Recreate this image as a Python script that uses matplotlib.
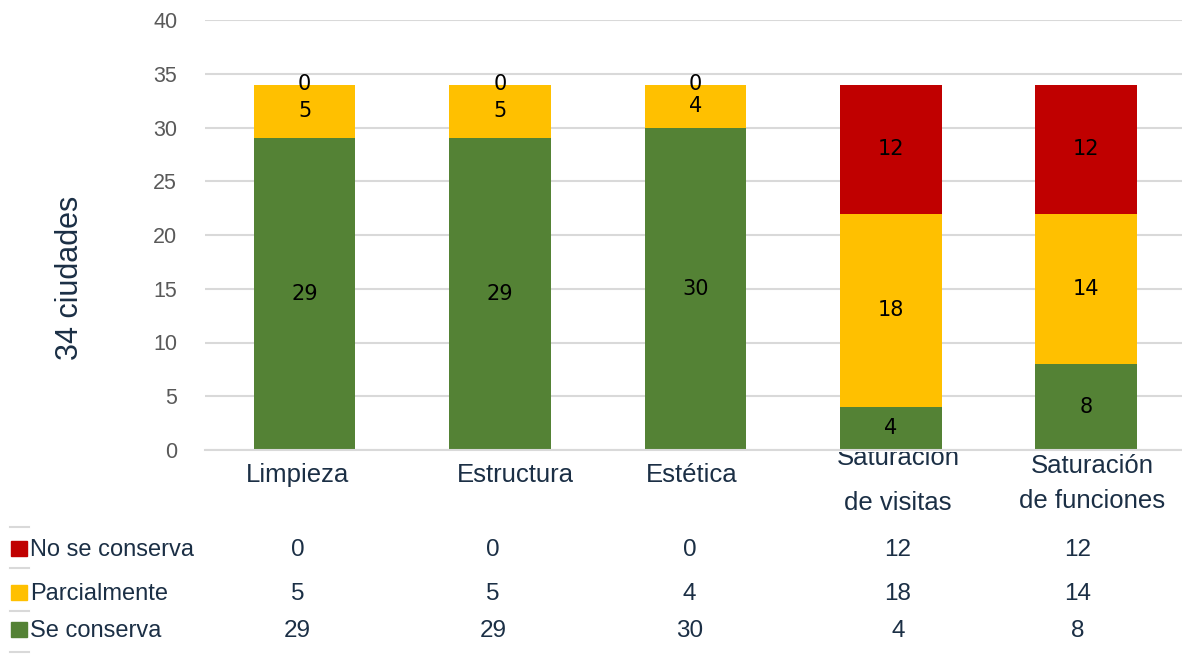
import numpy as np
import matplotlib
matplotlib.use("Agg")
import matplotlib.pyplot as plt
import matplotlib.transforms as mtransforms
from matplotlib.patches import Rectangle

# data
categorias = ["Limpieza", "Estructura", "Estética", "Saturación\nde visitas", "Saturación\nde funciones"]
series = ["No se conserva", "Parcialmente", "Se conserva"]
se_conserva = [29, 29, 30, 4, 8]
parcialmente = [5, 5, 4, 18, 14]
no_se_conserva = [0, 0, 0, 12, 12]
colores = {"Se conserva": "#548235", "Parcialmente": "#FFC000", "No se conserva": "#C00000"}

W, H = 1182, 668
fig = plt.figure(figsize=(W / 100, H / 100), dpi=100)
plt.rcParams['font.family'] = ['Liberation Sans', 'DejaVu Sans']
navy = "#1b2f45"

ax_left, ax_right = 205 / W, 1.0
ax_bottom, ax_top = 1 - 450 / H, 1 - 20 / H
ax = fig.add_axes([ax_left, ax_bottom, ax_right - ax_left, ax_top - ax_bottom])

x = np.arange(len(categorias))
ancho = 0.52
valores = {"Se conserva": se_conserva, "Parcialmente": parcialmente, "No se conserva": no_se_conserva}
base = np.zeros(len(categorias))
for nombre in ["Se conserva", "Parcialmente", "No se conserva"]:
    v = np.array(valores[nombre])
    bars = ax.bar(x, v, ancho, bottom=base, color=colores[nombre], zorder=3)
    ax.bar_label(bars, labels=[str(n) for n in v], label_type='center',
                 fontsize=15, color='black', family='DejaVu Sans', zorder=4)
    base += v

ax.set_xlim(-0.51, 4.49)
ax.set_ylim(0, 40)
ax.set_yticks(range(0, 41, 5))
ax.tick_params(axis='y', length=0, labelsize=15.5, labelcolor='#595959', pad=20)
ax.set_xticks([])
ax.grid(axis='y', color='#d9d9d9', linewidth=1.5, zorder=0)
for s in ["top", "right", "left"]:
    ax.spines[s].set_visible(False)
ax.spines["bottom"].set_color('#d9d9d9')
ax.spines["bottom"].set_linewidth(1.5)
ax.spines["bottom"].set_zorder(5)

fig.text(70 / W, 1 - 278 / H, "34 ciudades", rotation=90, ha='center', va='center',
         fontsize=22, color=navy)

# category labels below the axis (Excel-like wrapping)
trans = mtransforms.blended_transform_factory(ax.transData, fig.transFigure)
clip = Rectangle((0, 0), 1, ax_bottom - 2 / H, transform=fig.transFigure)
lineas = [
    [("Limpieza", 482)],
    [("Estructura", 482)],
    [("Estética", 482)],
    [("Saturación", 465), ("de visitas", 510)],
    [("Saturación", 473), ("de funciones", 508)],
]
desplaz = [-0.036, 0.077, -0.02, 0.036, 0.03]
for i, ls in enumerate(lineas):
    for texto, yb in ls:
        t = fig.text(x[i] + desplaz[i], 1 - yb / H, texto, transform=trans, ha='center',
                     va='baseline', fontsize=18.5, color=navy)
        t.set_clip_on(True)
        t.set_clip_path(clip)

# data table
filas_y = [550, 594, 631]
tabla = [no_se_conserva, parcialmente, se_conserva]
despl_tabla = [-0.036, -0.036, -0.03, 0.036, -0.046]
for nombre, fila, yc in zip(series, tabla, filas_y):
    yf = 1 - yc / H
    fig.add_artist(Rectangle((11 / W, yf - 6 / H), 16 / W, 15 / H, transform=fig.transFigure,
                             color=colores[nombre]))
    fig.text(30 / W, yf, nombre, ha='left', va='center', fontsize=17, color=navy)
    for i, v in enumerate(fila):
        fig.text(x[i] + despl_tabla[i], yf, str(v), transform=trans, ha='center', va='center',
                 fontsize=17.5, color=navy)
for yl in [527, 568, 611, 652]:
    fig.add_artist(plt.Line2D([10 / W, 29 / W], [1 - yl / H] * 2, transform=fig.transFigure,
                              color='#d9d9d9', linewidth=1.5))

fig.savefig("out.png", dpi=100)
